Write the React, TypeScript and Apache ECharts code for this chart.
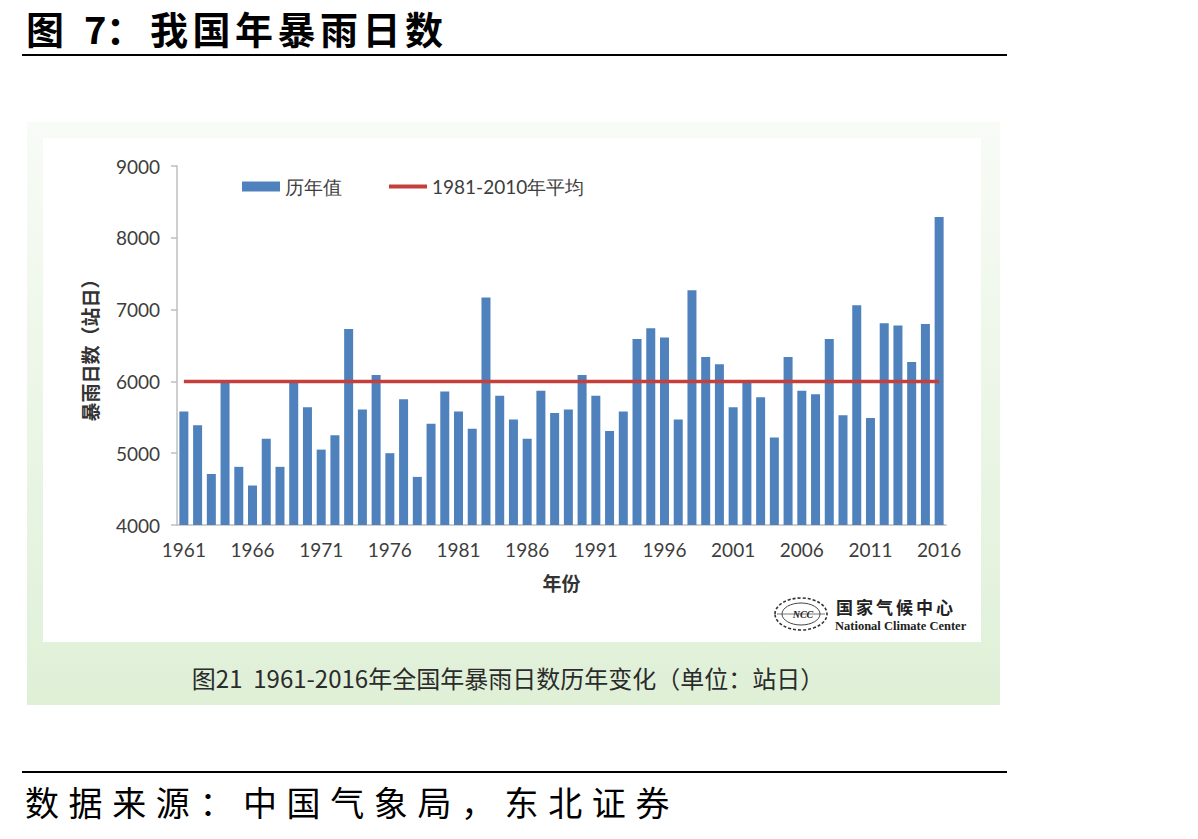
import React, { useEffect, useRef } from "react";
import * as echarts from "echarts";

// 1961–2016 annual heavy-rain station-days
const years: string[] = [
  "1961", "1962", "1963", "1964", "1965", "1966", "1967", "1968", "1969", "1970",
  "1971", "1972", "1973", "1974", "1975", "1976", "1977", "1978", "1979", "1980",
  "1981", "1982", "1983", "1984", "1985", "1986", "1987", "1988", "1989", "1990",
  "1991", "1992", "1993", "1994", "1995", "1996", "1997", "1998", "1999", "2000",
  "2001", "2002", "2003", "2004", "2005", "2006", "2007", "2008", "2009", "2010",
  "2011", "2012", "2013", "2014", "2015", "2016",
];

const annualValues: number[] = [
  5580, 5390, 4710, 5990, 4810, 4550, 5200, 4810, 5990, 5640,
  5050, 5250, 6730, 5610, 6090, 5000, 5750, 4670, 5410, 5860,
  5580, 5340, 7170, 5800, 5470, 5200, 5870, 5560, 5610, 6090,
  5800, 5310, 5580, 6590, 6740, 6610, 5470, 7270, 6340, 6240,
  5640, 5990, 5780, 5220, 6340, 5870, 5820, 6590, 5530, 7060,
  5490, 6810, 6780, 6270, 6800, 8290,
];

// 1981–2010 climatological mean
const normalValue = 6000;

const yTicks = { min: 4000, max: 9000, step: 1000 };

const seriesNames = ["历年值", "1981-2010年平均"];

const titleBody = "我国年暴雨日数";
const captionText = "图21  1961-2016年全国年暴雨日数历年变化（单位：站日）";
const sourceText = "数据来源：中国气象局，东北证券";

const CJK = '"Noto Sans CJK SC", "Microsoft YaHei", sans-serif';
const LATIN = 'Lato, "Open Sans", "Noto Sans", sans-serif';

// lay out a string one glyph at a time with a fixed pitch (wide-spaced heading style)
function spacedText(text: string, x0: number, y: number, pitch: number, font: string, fill: string) {
  return Array.from(text).map((ch, i) => ({
    type: "text",
    x: x0 + i * pitch,
    y,
    style: { text: ch, font, fill, verticalAlign: "middle" },
  }));
}

function glyph(text: string, x: number, y: number, font: string, fill: string) {
  return { type: "text", x, y, style: { text, font, fill, verticalAlign: "middle" } };
}

export default function App() {
  const ref = useRef<HTMLDivElement | null>(null);

  useEffect(() => {
    document.body.style.margin = "0";
    if (!ref.current) return;
    const chart = echarts.init(ref.current, undefined, { renderer: "svg" });

    const labelColor = "#3d3d3d";
    const axisColor = "#bfbfbf";
    const barColor = "#4f81bd";
    const lineColor = "#c3403d";

    const titleFont = `bold 38px ${CJK}`;

    chart.setOption({
      animation: false,
      backgroundColor: "#ffffff",
      textStyle: { fontFamily: LATIN },
      graphic: [
        // heading
        glyph("图", 26, 27, titleFont, "#000"),
        glyph("7", 84, 27, titleFont, "#000"),
        glyph("：", 106, 27, titleFont, "#000"),
        ...spacedText(titleBody, 150, 27, 42.5, titleFont, "#000"),
        {
          type: "line",
          shape: { x1: 22, y1: 55, x2: 1007, y2: 55 },
          style: { stroke: "#000", lineWidth: 2 },
        },
        // framed panel
        {
          type: "rect",
          z: -10,
          shape: { x: 27, y: 122, width: 973, height: 583 },
          style: {
            fill: new echarts.graphic.LinearGradient(0, 0, 0, 1, [
              { offset: 0, color: "#f8fbf6" },
              { offset: 1, color: "#dff0d7" },
            ]),
          },
        },
        {
          type: "rect",
          z: -9,
          shape: { x: 43, y: 138, width: 938, height: 504 },
          style: { fill: "#ffffff" },
        },
        // caption under the plot
        {
          type: "text",
          x: 508,
          y: 677,
          style: {
            text: captionText,
            font: `24px ${CJK}`,
            fill: "#2b2b2b",
            align: "center",
            verticalAlign: "middle",
          },
        },
        // National Climate Center emblem
        {
          type: "group",
          x: 801,
          y: 614,
          children: [
            {
              type: "ellipse",
              shape: { cx: 0, cy: 0, rx: 26, ry: 16 },
              style: { fill: "none", stroke: "#333", lineWidth: 1.6, lineDash: [3, 2] },
            },
            {
              type: "ellipse",
              shape: { cx: 0, cy: 0, rx: 19, ry: 11 },
              style: { fill: "none", stroke: "#444", lineWidth: 1 },
            },
            {
              type: "line",
              shape: { x1: -24, y1: 0, x2: 24, y2: 0 },
              style: { stroke: "#555", lineWidth: 0.8 },
            },
            {
              type: "text",
              x: 2,
              y: 0,
              style: {
                text: "NCC",
                font: `italic bold 10px "Liberation Serif", serif`,
                fill: "#222",
                align: "center",
                verticalAlign: "middle",
              },
            },
          ],
        },
        ...spacedText("国家气候中心", 836, 606, 20, `bold 17px ${CJK}`, "#222"),
        {
          type: "text",
          x: 835,
          y: 626,
          style: {
            text: "National Climate Center",
            font: `bold 12.5px "Liberation Serif", serif`,
            fill: "#222",
            verticalAlign: "middle",
          },
        },
        // footer
        {
          type: "line",
          shape: { x1: 22, y1: 772, x2: 1007, y2: 772 },
          style: { stroke: "#000", lineWidth: 2 },
        },
        ...spacedText(sourceText, 25, 801, 43.6, `34px ${CJK}`, "#000"),
      ],
      legend: [
        {
          left: 237,
          top: 172,
          itemWidth: 38,
          itemHeight: 10,
          textStyle: { fontSize: 19, color: labelColor, fontFamily: LATIN },
          data: [{ name: seriesNames[0], icon: "rect" }],
        },
        {
          left: 384,
          top: 172,
          itemWidth: 38,
          itemHeight: 4,
          textStyle: { fontSize: 19, color: labelColor, fontFamily: LATIN },
          data: [{ name: seriesNames[1], icon: "rect", itemStyle: { color: lineColor } }],
        },
      ],
      grid: { left: 177, right: 252, top: 166, bottom: 314, containLabel: false },
      xAxis: {
        type: "category",
        data: years,
        boundaryGap: true,
        name: "年份",
        nameLocation: "middle",
        nameGap: 48,
        nameTextStyle: { fontSize: 19, fontWeight: "bold", color: "#333", fontFamily: CJK },
        axisLine: { lineStyle: { color: axisColor, width: 1.5 } },
        axisTick: { interval: 4, length: 6, lineStyle: { color: axisColor, width: 1.5 } },
        axisLabel: { interval: 4, margin: 15, fontSize: 19, color: labelColor },
        splitLine: { show: false },
      },
      yAxis: {
        type: "value",
        min: yTicks.min,
        max: yTicks.max,
        interval: yTicks.step,
        name: "暴雨日数（站日）",
        nameLocation: "middle",
        nameGap: 78,
        nameRotate: 90,
        nameTextStyle: { fontSize: 19, fontWeight: "bold", color: "#333", fontFamily: CJK },
        axisLine: { show: true, lineStyle: { color: axisColor, width: 1.5 } },
        axisTick: { show: true, length: 6, lineStyle: { color: axisColor, width: 1.5 } },
        axisLabel: {
          margin: 17,
          fontSize: 19,
          color: labelColor,
          formatter: (v: number) => String(v),
        },
        splitLine: { show: false },
      },
      series: [
        {
          name: seriesNames[0],
          type: "bar",
          data: annualValues,
          barWidth: 9,
          itemStyle: { color: barColor },
        },
        {
          name: seriesNames[1],
          type: "line",
          data: years.map(() => normalValue),
          symbol: "none",
          lineStyle: { color: lineColor, width: 3.5 },
          itemStyle: { color: lineColor },
          z: 5,
        },
      ],
    });

    return () => chart.dispose();
  }, []);

  return (
    <div
      ref={ref}
      style={{ position: "absolute", left: 0, top: 0, width: 1198, height: 839 }}
    />
  );
}
